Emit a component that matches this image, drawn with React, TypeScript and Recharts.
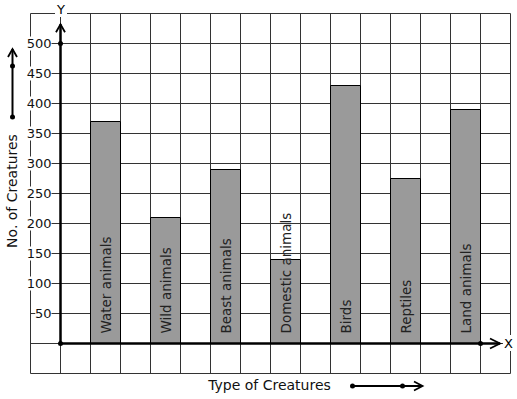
import React from "react";
import {
  BarChart,
  Bar,
  XAxis,
  YAxis,
  CartesianGrid,
  ReferenceLine,
  ReferenceDot,
  LabelList,
} from "recharts";

const categories = [
  "Water animals",
  "Wild animals",
  "Beast animals",
  "Domestic animals",
  "Birds",
  "Reptiles",
  "Land animals",
];
const creatures = [370, 210, 290, 140, 430, 275, 390];
const yTicks = [-50, 0, 50, 100, 150, 200, 250, 300, 350, 400, 450, 500, 550];
const gridColumns = [0, 1, 2, 3, 4, 5, 6, 7, 8, 9, 10, 11, 12, 13, 14, 15, 16];

// the paper has 16 columns; each bar takes every other column starting at the third
const slots = gridColumns.slice(0, 16).map((col) => {
  const k = (col - 2) / 2;
  const isBar = col >= 2 && col % 2 === 0 && k < categories.length;
  return {
    slot: col,
    name: isBar ? categories[k] : "",
    value: isBar ? creatures[k] : null,
  };
});

const FONT = "DejaVu Sans, sans-serif";
const Y_AXIS_AT = 1; // grid column where the Y axis stands
const Y_ARROW_TOP = 532;
const X_ARROW_END = 15.65;
const TICK_RIGHT = 51.5;

const YTick = (props: any) => {
  const { y, payload } = props;
  const v = payload.value;
  if (v <= 0 || v > 500) return <g />;
  const label = String(v);
  const w = label.length * 7.6 + 1;
  return (
    <g>
      <rect x={TICK_RIGHT - w} y={y - 7} width={w} height={14} fill="#fff" />
      <text
        x={TICK_RIGHT}
        y={y}
        textAnchor="end"
        dominantBaseline="central"
        fontSize={13}
        fontFamily={FONT}
        fill="#111"
      >
        {label}
      </text>
    </g>
  );
};

const BarText = (props: any) => {
  const { x, y, width, height, value } = props;
  if (!value) return null;
  const cx = x + width / 2;
  const cy = y + height - 10;
  return (
    <text
      x={cx}
      y={cy}
      transform={`rotate(-90 ${cx} ${cy})`}
      textAnchor="start"
      dominantBaseline="central"
      fontSize={13.5}
      fontFamily={FONT}
      fill="#222"
    >
      {value}
    </text>
  );
};

const yAxisShape = (p: any) => (
  <g>
    <line x1={p.x1} y1={p.y1} x2={p.x2} y2={p.y2} stroke="#000" strokeWidth={2.5} />
    <path
      d={`M${p.x2 - 4.5} ${p.y2 + 8} L${p.x2} ${p.y2} L${p.x2 + 4.5} ${p.y2 + 8}`}
      fill="none"
      stroke="#000"
      strokeWidth={1.8}
    />
  </g>
);

const xAxisShape = (p: any) => (
  <g>
    <line x1={p.x1} y1={p.y1} x2={p.x2} y2={p.y2} stroke="#000" strokeWidth={2.5} />
    <path
      d={`M${p.x2 - 10} ${p.y2 - 5} L${p.x2} ${p.y2} L${p.x2 - 10} ${p.y2 + 5}`}
      fill="none"
      stroke="#000"
      strokeWidth={1.8}
    />
  </g>
);

export default function App() {
  return (
    <div style={{ position: "absolute", left: 0, top: 0, background: "#fff" }}>
      <BarChart
        width={517}
        height={399}
        data={slots}
        barCategoryGap={0}
        margin={{ top: 13.5, right: 6.5, bottom: 25.5, left: 0.5 }}
      >
        <XAxis xAxisId="cat" dataKey="slot" type="category" hide />
        <XAxis
          xAxisId="g"
          dataKey="slot"
          type="number"
          domain={[0, 16]}
          allowDataOverflow
          ticks={gridColumns}
          hide
        />
        <YAxis
          domain={[-50, 550]}
          ticks={yTicks}
          allowDataOverflow
          interval={0}
          width={30}
          axisLine={false}
          tickLine={false}
          tick={<YTick />}
        />
        <CartesianGrid xAxisId="g" stroke="#333" strokeWidth={1} strokeOpacity={1} />
        <Bar
          xAxisId="cat"
          dataKey="value"
          fill="#9a9a9a"
          stroke="#000"
          strokeWidth={1}
          isAnimationActive={false}
        >
          <LabelList dataKey="name" content={<BarText />} />
        </Bar>
        <ReferenceLine
          xAxisId="g"
          segment={[
            { x: Y_AXIS_AT, y: 0 },
            { x: Y_AXIS_AT, y: Y_ARROW_TOP },
          ]}
          ifOverflow="visible"
          shape={yAxisShape}
        />
        <ReferenceLine
          xAxisId="g"
          segment={[
            { x: Y_AXIS_AT, y: 0 },
            { x: X_ARROW_END, y: 0 },
          ]}
          ifOverflow="visible"
          shape={xAxisShape}
        />
        <ReferenceDot xAxisId="g" x={Y_AXIS_AT} y={0} r={2.5} fill="#000" stroke="none" />
        <ReferenceDot xAxisId="g" x={Y_AXIS_AT} y={500} r={2.5} fill="#000" stroke="none" />
        <ReferenceDot xAxisId="g" x={15} y={0} r={2.5} fill="#000" stroke="none" />

        {/* axis letters */}
        <rect x={55} y={2} width={12} height={15} fill="#fff" />
        <text x={61} y={9.5} textAnchor="middle" dominantBaseline="central" fontSize={13} fontFamily={FONT}>
          Y
        </text>
        <rect x={503} y={335} width={12} height={16} fill="#fff" />
        <text x={508.5} y={343} textAnchor="middle" dominantBaseline="central" fontSize={13} fontFamily={FONT}>
          X
        </text>

        {/* axis titles with their arrows */}
        <text
          x={12}
          y={191}
          transform="rotate(-90 12 191)"
          textAnchor="middle"
          dominantBaseline="central"
          fontSize={14}
          fontFamily={FONT}
          fill="#111"
        >
          No. of Creatures
        </text>
        <line x1={12.5} y1={49} x2={12.5} y2={117} stroke="#000" strokeWidth={2} />
        <path d="M8 57 L12.5 49 L17 57" fill="none" stroke="#000" strokeWidth={1.8} />
        <circle cx={12.5} cy={66} r={2.5} fill="#000" />
        <circle cx={12.5} cy={117} r={2.5} fill="#000" />

        <text x={269.5} y={390} textAnchor="middle" fontSize={14} fontFamily={FONT} fill="#111">
          Type of Creatures
        </text>
        <line x1={352} y1={386} x2={422} y2={386} stroke="#000" strokeWidth={2} />
        <path d="M414 381.5 L422.5 386 L414 390.5" fill="none" stroke="#000" strokeWidth={1.8} />
        <circle cx={352.5} cy={386} r={2.5} fill="#000" />
        <circle cx={402.5} cy={386} r={2.5} fill="#000" />
      </BarChart>
    </div>
  );
}
